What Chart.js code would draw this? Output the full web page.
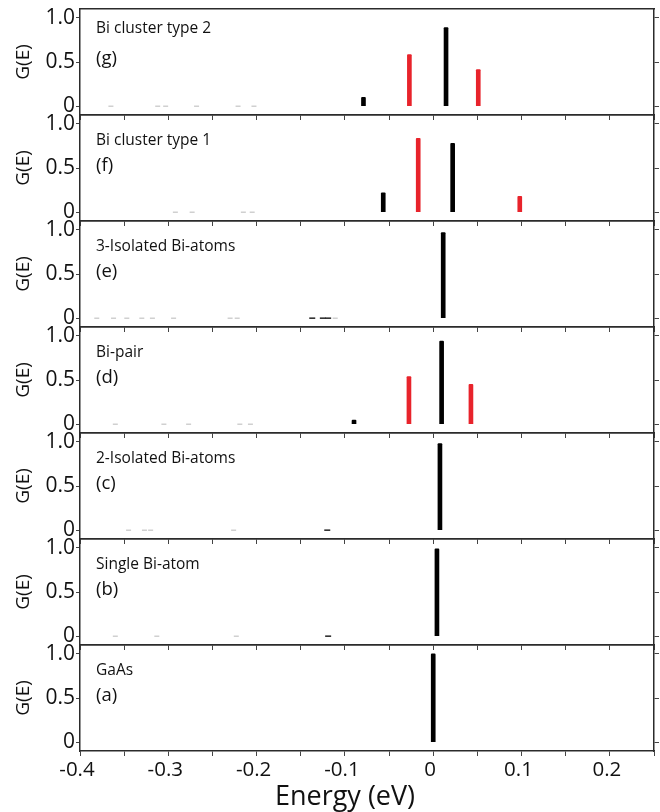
<!DOCTYPE html>
<html>
<head>
<meta charset="utf-8">
<script src="https://cdn.jsdelivr.net/npm/chart.js@4.4.1/dist/chart.umd.min.js"></script>
<style>
  html, body { margin: 0; padding: 0; background: #fff; }
  #wrap { position: relative; width: 660px; height: 812px; overflow: hidden; }
  #wrap canvas { position: absolute; left: 0; }
</style>
</head>
<body>
<div id="wrap"></div>
<script>
// axes
const xMin = -0.4, xMax = 0.25
const yMin = -0.1, yMax = 1.1
const xTickValues = [-0.4, -0.35, -0.3, -0.25, -0.2, -0.15, -0.1, -0.05, 0, 0.05, 0.1, 0.15, 0.2, 0.25]
const xTickLabels = ['-0.4', '', '-0.3', '', '-0.2', '', '-0.1', '', '0', '', '0.1', '', '0.2', '']
const yTickValues = [0, 0.5, 1.0]
const yTickLabels = ['0', '0.5', '1.0']

// panels, top to bottom
const panelNames = ['Bi cluster type 2', 'Bi cluster type 1', '3-Isolated Bi-atoms', 'Bi-pair', '2-Isolated Bi-atoms', 'Single Bi-atom', 'GaAs']
const panelLetters = ['(g)', '(f)', '(e)', '(d)', '(c)', '(b)', '(a)']

// black peaks: energy (eV) and G(E)
const blackEnergy = [[-0.079, 0.0145], [-0.0566, 0.022], [0.0113], [-0.0897, 0.0095], [0.0076], [0.0042], [0.0]]
const blackG = [[0.10, 0.89], [0.22, 0.78], [0.97], [0.045, 0.94], [0.98], [0.99], [1.0]]

// red peaks
const redEnergy = [[-0.027, 0.051], [-0.017, 0.098], [], [-0.0275, 0.0427], [], [], []]
const redG = [[0.585, 0.415], [0.836, 0.18], [], [0.54, 0.45], [], [], []]

// faint states near zero
const traceEnergy = [
  [-0.365, -0.312, -0.303, -0.268, -0.221, -0.203],
  [-0.292, -0.273, -0.215, -0.205],
  [-0.381, -0.362, -0.347, -0.33, -0.318, -0.294, -0.23, -0.222, -0.111],
  [-0.36, -0.305, -0.277, -0.219, -0.207],
  [-0.345, -0.327, -0.32, -0.226],
  [-0.36, -0.313, -0.223],
  []
]
const darkTraceEnergy = [[], [], [-0.137, -0.125, -0.119], [], [-0.12], [-0.119], []]

const panelTop = 9, panelHeight = 106
const axisColor = '#2b2b2b'
const font = '"Open Sans", "Noto Sans", sans-serif'

const panelText = {
  id: 'panelText',
  afterDraw(chart, args, opts) {
    const { ctx, chartArea } = chart
    ctx.save()
    ctx.fillStyle = '#111'
    ctx.textBaseline = 'alphabetic'
    ctx.font = '15.5px ' + font
    ctx.fillText(opts.name, chartArea.left + 16, chartArea.top + opts.nameY)
    ctx.font = '18.5px ' + font
    ctx.fillText(opts.letter, chartArea.left + 16, chartArea.top + opts.letterY)
    ctx.restore()
  }
}

function zeroPad(s) {
  s.paddingTop = 0; s.paddingBottom = 0; s.paddingLeft = 0; s.paddingRight = 0
}

function makePanel(i) {
  const isBottom = i === panelNames.length - 1
  const top = panelTop + i * panelHeight
  const canvas = document.createElement('canvas')
  const h = isBottom ? 174 : 118
  canvas.width = 660
  canvas.height = h
  canvas.style.top = (top - 6) + 'px'
  document.getElementById('wrap').appendChild(canvas)

  const datasets = [
    {
      type: 'bar',
      data: blackEnergy[i].map((e, k) => ({ x: e, y: blackG[i][k] })),
      backgroundColor: '#000',
      barThickness: 4,
      grouped: false,
      borderRadius: 1
    },
    {
      type: 'bar',
      data: redEnergy[i].map((e, k) => ({ x: e, y: redG[i][k] })),
      backgroundColor: '#e8232b',
      barThickness: 4,
      grouped: false,
      borderRadius: 1
    },
    {
      type: 'scatter',
      data: traceEnergy[i].map(e => ({ x: e, y: 0 })),
      pointStyle: 'line',
      pointRadius: 2.5,
      borderColor: '#b8b8b8',
      borderWidth: 1
    },
    {
      type: 'scatter',
      data: darkTraceEnergy[i].map(e => ({ x: e, y: 0 })),
      pointStyle: 'line',
      pointRadius: 3,
      borderColor: '#222',
      borderWidth: 1.5
    }
  ]

  new Chart(canvas.getContext('2d'), {
    type: 'bar',
    data: { datasets },
    plugins: [panelText],
    options: {
      responsive: false,
      animation: false,
      events: [],
      layout: { padding: { top: 6, left: 0, right: isBottom ? -30 : 0, bottom: 0 } },
      plugins: {
        legend: { display: false },
        tooltip: { enabled: false },
        title: {
          display: isBottom,
          position: 'bottom',
          text: 'Energy (eV)',
          color: '#111',
          padding: 0,
          font: { family: font, size: 27, weight: 'normal', lineHeight: '32px' }
        },
        panelText: {
          name: panelNames[i],
          letter: panelLetters[i],
          nameY: i === 0 ? 24 : 30,
          letterY: i === 0 ? 55 : 56
        }
      },
      scales: {
        x: {
          type: 'linear',
          min: xMin,
          max: xMax,
          offset: false,
          afterBuildTicks: s => { s.ticks = xTickValues.map(v => ({ value: v })) },
          afterFit: s => { s.height = isBottom ? 30 : 6; zeroPad(s) },
          grid: { offset: false, drawOnChartArea: false, drawTicks: true, tickLength: 5, tickColor: '#444', tickWidth: 1 },
          border: { display: true, color: axisColor, width: 1.5 },
          ticks: {
            display: isBottom,
            autoSkip: false,
            maxRotation: 0,
            padding: 2,
            labelOffset: -3,
            color: '#111',
            font: { family: font, size: 20.5 },
            callback: (v, k) => xTickLabels[k]
          }
        },
        xTop: {
          type: 'linear',
          position: 'top',
          min: xMin,
          max: xMax,
          afterFit: s => { s.height = 0; zeroPad(s) },
          grid: { drawOnChartArea: false, drawTicks: false },
          border: { display: true, color: axisColor, width: 1.5 },
          ticks: { display: false }
        },
        y: {
          min: yMin,
          max: yMax,
          afterBuildTicks: s => { s.ticks = yTickValues.map(v => ({ value: v })) },
          afterFit: s => { s.width = 80; zeroPad(s) },
          grid: { drawOnChartArea: false, drawTicks: true, tickLength: 4, tickColor: '#444', tickWidth: 1 },
          border: { display: true, color: axisColor, width: 1.5 },
          ticks: {
            padding: 1,
            color: '#111',
            font: { family: font, size: 21 },
            callback: (v, k) => yTickLabels[k]
          },
          title: {
            display: true,
            text: 'G(E)',
            color: '#111',
            padding: { top: 12, bottom: 0 },
            font: { family: font, size: 19 }
          }
        },
        yRight: {
          position: 'right',
          min: yMin,
          max: yMax,
          afterBuildTicks: s => { s.ticks = yTickValues.map(v => ({ value: v })) },
          afterFit: s => { s.width = isBottom ? 36 : 6; zeroPad(s) },
          grid: { drawOnChartArea: false, drawTicks: true, tickLength: 5, tickColor: '#444', tickWidth: 1 },
          border: { display: true, color: axisColor, width: 1.5 },
          ticks: { display: false }
        }
      }
    }
  })
}

document.addEventListener('DOMContentLoaded', () => {
  for (let i = 0; i < panelNames.length; i++) makePanel(i)
})
</script>
</body>
</html>
